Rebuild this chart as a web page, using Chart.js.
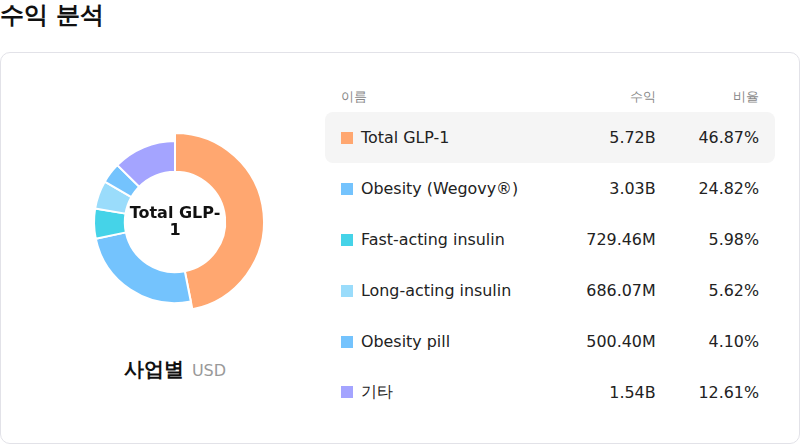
<!DOCTYPE html>
<html><head><meta charset="utf-8">
<script src="https://cdn.jsdelivr.net/npm/chart.js@4"></script>
<style>
body{margin:0;width:800px;height:444px;background:#fff;font-family:"DejaVu Sans",sans-serif;position:relative;overflow:hidden}
h1{position:absolute;left:0;top:0;margin:0;font-size:24px;font-weight:bold;line-height:30px;color:#111}
.card{position:absolute;left:0;top:52px;width:798px;height:390px;border:1px solid #e2e2e8;border-radius:10px}
#wrap{position:absolute;left:75px;top:122px;width:200px;height:200px}
.cap{position:absolute;left:0;width:350px;top:356px;text-align:center;font-size:20px;font-weight:bold;color:#111}
.cap span{font-weight:normal;color:#999;font-size:16px;margin-left:8px}
table{position:absolute;left:325px;top:82px;width:450px;border-collapse:separate;border-spacing:0;font-size:15.9px;color:#222}
th{font-weight:normal;color:#888;font-size:13px;height:30px;text-align:right;padding:0 16px}
th:first-child{text-align:left}
td{height:51px;text-align:right;padding:0 16px}
td:first-child{text-align:left}
tr.hl td{background:#f5f5f5}
tr.hl td:first-child{border-radius:8px 0 0 8px}
tr.hl td:last-child{border-radius:0 8px 8px 0}
.sq{display:inline-block;width:12px;height:12px;margin-right:8px;vertical-align:-1px}
</style></head><body>
<h1>수익 분석</h1>
<div class="card"></div>
<div id="wrap"><canvas id="c"></canvas></div>
<div class="cap">사업별<span>USD</span></div>
<table id="t"><thead><tr><th>이름</th><th>수익</th><th>비율</th></tr></thead><tbody></tbody></table>
<script>
const categories=["Total GLP-1","Obesity (Wegovy®)","Fast-acting insulin","Long-acting insulin","Obesity pill","기타"];
const revenue=["5.72B","3.03B","729.46M","686.07M","500.40M","1.54B"];
const shares=[46.87,24.82,5.98,5.62,4.10,12.61];
const colors=["#FFA770","#74C3FD","#45D3E8","#9ADCFB","#74C3FD","#A4A4FF"];
const tb=document.querySelector('#t tbody');
categories.forEach((c,i)=>{const tr=document.createElement('tr');if(i===0)tr.className='hl';
tr.innerHTML=`<td><span class="sq" style="background:${colors[i]}"></span>${c}</td><td>${revenue[i]}</td><td>${shares[i].toFixed(2)}%</td>`;tb.appendChild(tr);});
const grow={id:'grow',afterDatasetsUpdate(ch){const m=ch.getDatasetMeta(0);m.data[0].outerRadius+=8;}};
const center={id:'center',afterDraw(ch){const x=ch.ctx,a=ch.chartArea,cx=(a.left+a.right)/2,cy=(a.top+a.bottom)/2;
x.save();x.font='bold 16px "DejaVu Sans"';x.fillStyle='#111';x.textAlign='center';x.textBaseline='middle';
x.fillText('Total GLP-',cx,cy-8);x.fillText('1',cx,cy+9);x.restore();}};
new Chart(document.getElementById('c'),{type:'doughnut',
data:{labels:categories,datasets:[{data:shares,backgroundColor:colors,borderColor:'#fff',borderWidth:2}]},
options:{responsive:true,maintainAspectRatio:false,animation:false,cutout:'62%',layout:{padding:18},
plugins:{legend:{display:false},tooltip:{enabled:false}}},plugins:[grow,center]});
</script></body></html>
